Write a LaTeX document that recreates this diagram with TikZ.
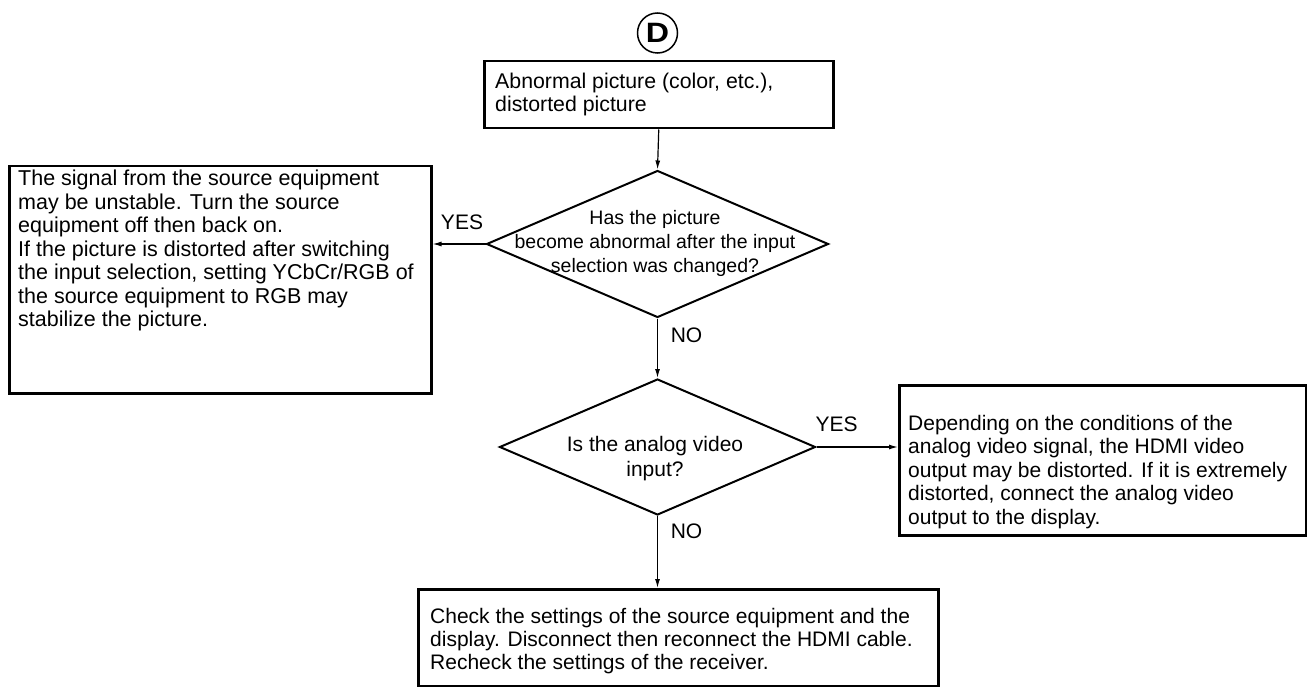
\documentclass[tikz,border=0pt]{standalone}
\usepackage{fontspec}
\setmainfont{Liberation Sans}
\usetikzlibrary{shapes.geometric,arrows.meta}
\begin{document}
\begin{tikzpicture}[x=1pt,y=-1pt,
  box/.style={draw, line width=2.5pt, rectangle, inner sep=0pt, anchor=north west},
  dia/.style={draw, line width=2pt, diamond, inner sep=0pt},
  txt/.style={inner sep=0pt, align=left, anchor=north west},
  ctxt/.style={inner sep=0pt, align=center, anchor=north},
  lbl/.style={inner sep=0pt, font=\fontsize{21pt}{24pt}\selectfont},
  arr/.style={-{Latex[length=9pt,width=5pt]}, line width=1.2pt}]
\useasboundingbox (0,0) rectangle (1307,687);
% start marker
\node[draw, circle, line width=1.5pt, minimum size=40pt, inner sep=0pt,
      font=\bfseries\fontsize{28pt}{28pt}\selectfont] (D) at (657.5,33) {\scalebox{1.15}[1]{D}};
% boxes
\node[box, minimum width=349pt, minimum height=67pt] (top) at (483,60) {};
\node[txt, font=\fontsize{21.3pt}{23.5pt}\selectfont] (toptxt) at (495,71.55)
  {\strut Abnormal picture (color, etc.),\\distorted picture};
\node[box, minimum width=422pt, minimum height=227pt] (lbox) at (8,165) {};
\node[txt, font=\fontsize{21.5pt}{23.5pt}\selectfont] (ltxt) at (18,169)
  {\strut The signal from the source equipment\\
   may be unstable. Turn the source\\
   equipment off then back on.\\
   If the picture is distorted after switching\\
   the input selection, setting YCbCr/RGB of\\
   the source equipment to RGB may\\
   stabilize the picture.};
\node[box, minimum width=407pt, minimum height=150pt] (rbox) at (898,384) {};
\node[txt, font=\fontsize{21pt}{23.5pt}\selectfont] (rtxt) at (908,413.5)
  {\strut Depending on the conditions of the\\
   analog video signal, the HDMI video\\
   output may be distorted. If it is extremely\\
   distorted, connect the analog video\\
   output to the display.};
\node[box, minimum width=520pt, minimum height=97pt] (bbox) at (417,588) {};
\node[txt, font=\fontsize{21pt}{23pt}\selectfont] (btxt) at (430,606.9)
  {\strut Check the settings of the source equipment and the\\
   display. Disconnect then reconnect the HDMI cable.\\
   Recheck the settings of the receiver.};
% decisions
\node[dia, minimum width=342pt, minimum height=147pt] (q1) at (657.5,244) {};
\node[ctxt, font=\fontsize{19.5pt}{24.4pt}\selectfont] (q1txt) at (655,206.9)
  {\strut Has the picture\\become abnormal after the input\\selection was changed?};
\node[dia, minimum width=316pt, minimum height=136pt] (q2) at (657.5,447) {};
\node[ctxt, font=\fontsize{21pt}{24.5pt}\selectfont] (q2txt) at (655,434.35)
  {\strut Is the analog video\\input?};
% labels
\node[lbl] (yes1) at (462,222) {YES};
\node[lbl] (no1) at (686.5,335) {NO};
\node[lbl] (yes2) at (836.7,424) {YES};
\node[lbl] (no2) at (686.5,531.7) {NO};
% connectors
\draw[arr] (top.south) -- (q1.north);
\draw[arr] (q1.west) -- (q1.west -| lbox.east);
\draw[arr] (q1.south) -- (q2.north);
\draw[arr] (q2.east) -- (q2.east -| rbox.west);
\draw[arr] (q2.south) -- (q2.south |- bbox.north);
\end{tikzpicture}
\end{document}
